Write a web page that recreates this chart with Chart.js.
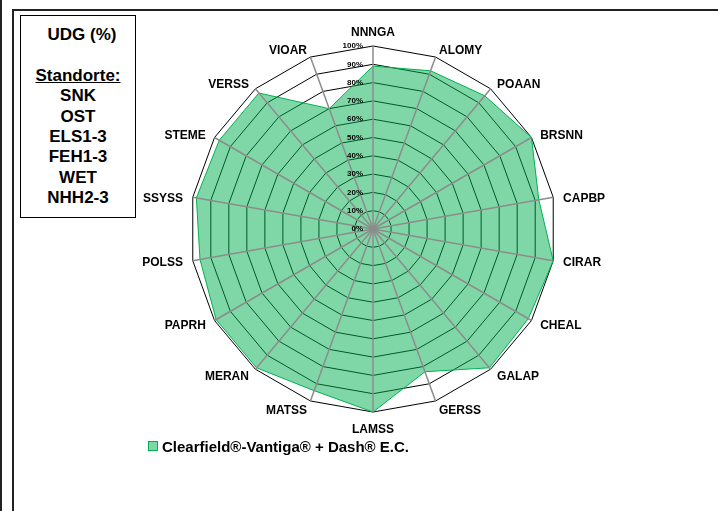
<!DOCTYPE html>
<html>
<head>
<meta charset="utf-8">
<script src="https://cdn.jsdelivr.net/npm/chart.js@4"></script>
<style>
html,body{margin:0;padding:0;width:718px;height:511px;overflow:hidden;background:#fff;font-family:"Liberation Sans",Arial,sans-serif;}
#chartWrap{position:absolute;left:0;top:0;width:718px;height:511px;}
#outerLine{position:absolute;left:0;top:0;width:2px;height:511px;background:#222;}
#frame{position:absolute;left:12px;top:9px;width:740px;height:540px;border-left:2px solid #222;border-top:2px solid #222;}
#infoBox{position:absolute;left:20px;top:15px;width:116px;height:203px;border:1.5px solid #000;background:#fff;
  font-weight:bold;font-size:17px;line-height:20.4px;text-align:center;padding-top:9px;box-sizing:border-box;color:#000;}
#infoBox .u{text-decoration:underline;}
#infoBox .t{padding-left:8px;}
#legend{position:absolute;left:148px;top:438px;font-weight:bold;font-size:15px;line-height:18px;color:#000;white-space:nowrap;}
#legend .sw{display:inline-block;width:8px;height:8px;background:rgba(0,176,80,0.5);border:1px solid #00b050;margin-right:4px;vertical-align:1px;}
</style>
</head>
<body>
<div id="chartWrap"><canvas id="c"></canvas></div>
<div id="outerLine"></div>
<div id="frame"></div>
<div id="infoBox"></div>
<div id="legend"></div>
<script>
// ---- data ----
const categories = ["NNNGA","ALOMY","POAAN","BRSNN","CAPBP","CIRAR","CHEAL","GALAP","GERSS","LAMSS","MATSS","MERAN","PAPRH","POLSS","SSYSS","STEME","VERSS","VIOAR"];
const seriesName = "Clearfield®-Vantiga® + Dash® E.C.";
const seriesValues = [89, 92, 95, 100, 92, 100, 98, 99, 83, 100, 94, 99, 99, 96, 98, 97, 97, 70];
const tickValues = [0,10,20,30,40,50,60,70,80,90,100];
const tickLabels = ["0%","10%","20%","30%","40%","50%","60%","70%","80%","90%","100%"];
const boxTitle = "UDG (%)";
const boxSubtitle = "Standorte:";
const sites = ["SNK","OST","ELS1-3","FEH1-3","WET","NHH2-3"];

// info box
const ib = document.getElementById('infoBox');
const addLine = (t, cls) => { const d = document.createElement('div'); if (t) d.textContent = t; else d.innerHTML = '&nbsp;'; if (cls) d.className = cls; ib.appendChild(d); };
addLine(boxTitle, 't');
addLine("");
addLine(boxSubtitle, 'u');
sites.forEach(s => addLine(s));

// legend
const lg = document.getElementById('legend');
lg.innerHTML = '<span class="sw"></span>';
lg.appendChild(document.createTextNode(seriesName));

const overlay = {
  id: 'overlay',
  afterDatasetsDraw(chart) {
    const s = chart.scales.r;
    const ctx = chart.ctx;
    ctx.save();
    const rMax = s.getDistanceFromCenterForValue(s.max);
    // angle lines on top of the fill
    ctx.strokeStyle = '#8c8c8c';
    ctx.lineWidth = 1.5;
    for (let i = 0; i < categories.length; i++) {
      const p = s.getPointPosition(i, rMax);
      ctx.beginPath();
      ctx.moveTo(s.xCenter, s.yCenter);
      ctx.lineTo(p.x, p.y);
      ctx.stroke();
    }
    // tick labels
    ctx.fillStyle = '#000';
    ctx.font = 'bold 8px "Liberation Sans", Arial, sans-serif';
    ctx.textAlign = 'right';
    ctx.textBaseline = 'middle';
    tickValues.forEach((v, k) => {
      const d = s.getDistanceFromCenterForValue(v);
      ctx.fillText(tickLabels[k], s.xCenter - 10, s.yCenter - d);
    });
    // category labels, vertically centred on the extended spoke
    ctx.font = 'bold 12px "Liberation Sans", Arial, sans-serif';
    const n = categories.length;
    for (let i = 0; i < n; i++) {
      const p = s.getPointPosition(i, rMax + 10);
      const deg = Math.round(i * 360 / n);
      let x = p.x, y = p.y;
      if (deg === 0) { ctx.textAlign = 'center'; y -= 3.5; }
      else if (deg === 180) { ctx.textAlign = 'center'; y += 8; }
      else if (deg < 180) { ctx.textAlign = 'left'; }
      else { ctx.textAlign = 'right'; }
      if (deg > 0 && (deg < 90 || deg > 270)) y += 3.5;
      ctx.fillText(categories[i], x, y);
    }
    ctx.restore();
  }
};

new Chart(document.getElementById('c'), {
  type: 'radar',
  data: {
    labels: categories,
    datasets: [{
      label: seriesName,
      data: seriesValues,
      backgroundColor: 'rgba(0,176,80,0.5)',
      borderColor: '#00b050',
      borderWidth: 1,
      pointRadius: 0,
      fill: true,
      tension: 0
    }]
  },
  options: {
    responsive: true,
    maintainAspectRatio: false,
    animation: false,
    plugins: { legend: { display: false }, tooltip: { enabled: false } },
    layout: { padding: { left: 190, top: 46, right: 162, bottom: 99 } },
    scales: {
      r: {
        min: 0, max: 100,
        beginAtZero: true,
        ticks: { display: false, stepSize: 10 },
        grid: { circular: false, color: '#000', lineWidth: 1 },
        angleLines: { display: false },
        pointLabels: { display: false }
      }
    }
  },
  plugins: [overlay]
});
</script>
</body>
</html>
